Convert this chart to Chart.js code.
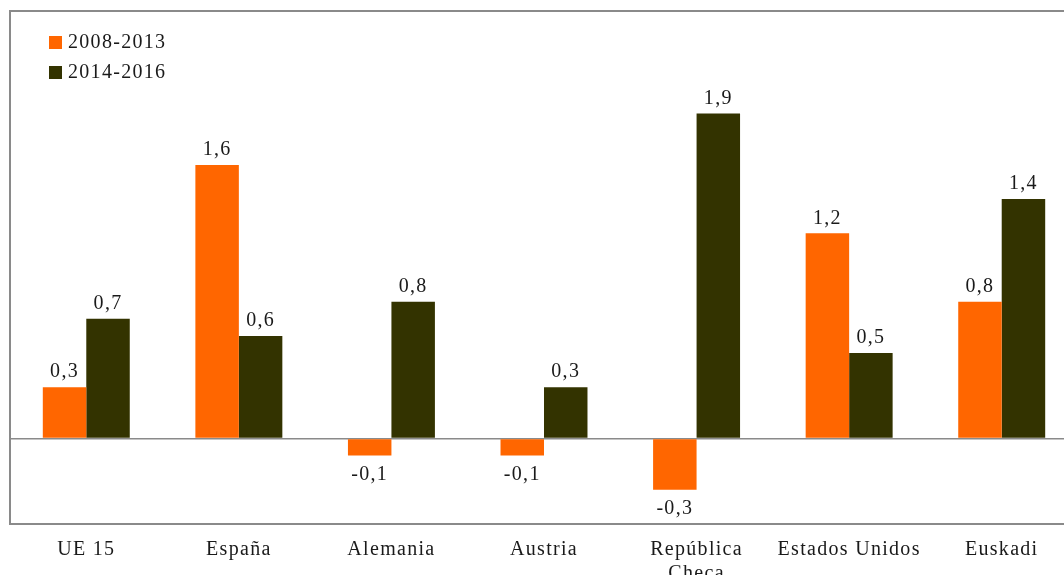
<!DOCTYPE html>
<html>
<head>
<meta charset="utf-8">
<script src="https://cdn.jsdelivr.net/npm/chart.js@4.4.1/dist/chart.umd.min.js"></script>
<style>
  html, body { margin: 0; padding: 0; background: #fff; overflow: hidden; }
  #wrap { position: relative; width: 1078px; height: 575px; }
</style>
</head>
<body>
<div id="wrap"><canvas id="c" width="1078" height="575"></canvas></div>
<script>
// Categories and series
const categories = ['UE 15', 'España', 'Alemania', 'Austria', ['República', 'Checa'], 'Estados Unidos', 'Euskadi'];
const seriesNames = ['2008-2013', '2014-2016'];
const values2008_2013 = [0.3, 1.6, -0.1, -0.1, -0.3, 1.2, 0.8];
const values2014_2016 = [0.7, 0.6, 0.8, 0.3, 1.9, 0.5, 1.4];
const seriesColors = ['#FF6600', '#333300'];

const FONT = "'Liberation Serif', 'DejaVu Serif', serif";
const FONT_SIZE = 20;
const TEXT = '#1a1a1a';
const AXIS = '#8a8a8a';
const SPACING = '1.3px';

const fmt = v => v.toFixed(1).replace('.', ',');

// Wider tracking for every text drawn on the canvas
const tracking = {
  id: 'tracking',
  beforeDraw(chart) { chart.ctx.letterSpacing = SPACING; }
};

// Frame around the plotting area (top, left, bottom)
const framePlugin = {
  id: 'frame',
  afterDraw(chart) {
    const { ctx, chartArea: a } = chart;
    ctx.save();
    ctx.strokeStyle = AXIS;
    ctx.lineWidth = 2;
    ctx.strokeRect(a.left, a.top, a.right - a.left + 20, a.bottom - a.top);
    ctx.restore();
  }
};

// Value labels above positive bars, below negative bars
const valueLabels = {
  id: 'valueLabels',
  afterDatasetsDraw(chart) {
    const { ctx } = chart;
    ctx.save();
    ctx.letterSpacing = SPACING;
    ctx.font = FONT_SIZE + 'px ' + FONT;
    ctx.fillStyle = TEXT;
    ctx.textAlign = 'center';
    ctx.textBaseline = 'middle';
    chart.data.datasets.forEach((ds, i) => {
      chart.getDatasetMeta(i).data.forEach((bar, j) => {
        const v = ds.data[j];
        const y = v >= 0 ? bar.y - 15 : bar.y + 19;
        ctx.fillText(fmt(v), bar.x, y);
      });
    });
    ctx.restore();
  }
};

// Legend drawn inside the plot, top-left
const innerLegend = {
  id: 'innerLegend',
  afterDraw(chart) {
    const { ctx, chartArea: a } = chart;
    ctx.save();
    ctx.letterSpacing = SPACING;
    ctx.font = FONT_SIZE + 'px ' + FONT;
    ctx.textBaseline = 'middle';
    ctx.textAlign = 'left';
    chart.data.datasets.forEach((ds, i) => {
      const cy = a.top + 31 + i * 30;
      ctx.fillStyle = ds.backgroundColor;
      ctx.fillRect(a.left + 39, cy - 6, 13, 13);
      ctx.fillStyle = TEXT;
      ctx.fillText(ds.label, a.left + 58, cy + 1);
    });
    ctx.restore();
  }
};

new Chart(document.getElementById('c'), {
  type: 'bar',
  data: {
    labels: categories,
    datasets: [
      { label: seriesNames[0], data: values2008_2013, backgroundColor: seriesColors[0] },
      { label: seriesNames[1], data: values2014_2016, backgroundColor: seriesColors[1] }
    ]
  },
  options: {
    responsive: false,
    animation: false,
    devicePixelRatio: 1,
    layout: { padding: { left: 10, top: 11, right: 0, bottom: 0 } },
    datasets: { bar: { categoryPercentage: 0.57, barPercentage: 1.0 } },
    plugins: { legend: { display: false }, tooltip: { enabled: false } },
    scales: {
      x: {
        grid: { display: false, drawTicks: false },
        border: { display: false },
        ticks: {
          color: TEXT,
          font: { family: FONT, size: FONT_SIZE },
          padding: 14,
          maxRotation: 0,
          autoSkip: false
        },
        afterFit(scale) { scale.height = 51; }
      },
      y: {
        min: -0.5,
        max: 2.5,
        ticks: { display: false, stepSize: 0.5 },
        border: { display: false },
        grid: {
          drawTicks: false,
          lineWidth: 1.5,
          color: ctx => (ctx.tick && ctx.tick.value === 0 ? AXIS : 'rgba(0,0,0,0)')
        },
        afterFit(scale) { scale.width = 0; }
      }
    }
  },
  plugins: [tracking, framePlugin, valueLabels, innerLegend]
});
</script>
</body>
</html>
